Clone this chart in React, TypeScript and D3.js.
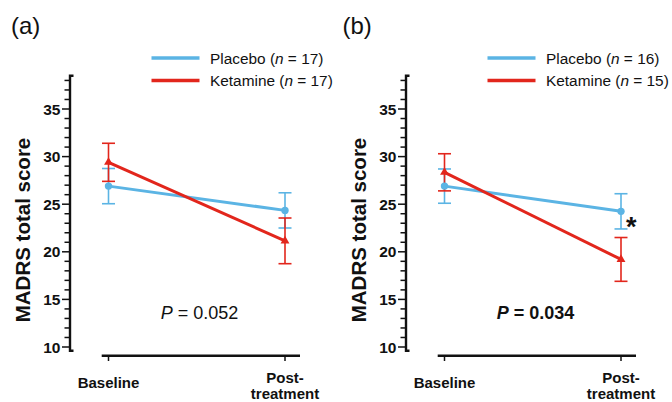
import React from "react";
import * as d3 from "d3";

// ---------- data ----------
const categories = ["Baseline", "Post-treatment"];
const yMajorTicks = [10, 15, 20, 25, 30, 35];
const yMinorTicks = d3.range(10, 39, 1);

const panelLabels = ["(a)", "(b)"];
const placeboN = [17, 16];
const ketamineN = [17, 15];
const pValues = ["0.052", "0.034"];

const aPlaceboMean = [26.9, 24.35];
const aPlaceboErr = [1.85, 1.85];
const aKetamineMean = [29.4, 21.15];
const aKetamineErr = [2.0, 2.4];

const bPlaceboMean = [26.9, 24.25];
const bPlaceboErr = [1.8, 1.85];
const bKetamineMean = [28.35, 19.2];
const bKetamineErr = [1.95, 2.3];

// ---------- style ----------
const BLUE = "#5bb4e4";
const RED = "#e2261c";
const FONT = "'Liberation Sans', Arial, Helvetica, sans-serif";

const W = 672;
const H = 402;

const y = d3.scaleLinear().domain([10, 35]).range([347, 109]);
const x = d3.scalePoint<string>().domain(categories).range([108.5, 285]);

const triangle = d3.symbol().type(d3.symbolTriangle).size(34)();

type Series = { mean: number[]; err: number[]; color: string; kind: "circle" | "triangle" };

function ErrorBars({ s }: { s: Series }) {
  return (
    <g stroke={s.color} strokeWidth={1.6} fill="none">
      {categories.map((c, i) => {
        const cx = x(c)!;
        const top = y(s.mean[i] + s.err[i]);
        const bot = y(s.mean[i] - s.err[i]);
        return (
          <g key={c}>
            <line x1={cx} x2={cx} y1={top} y2={bot} />
            <line x1={cx - 6.5} x2={cx + 6.5} y1={top} y2={top} />
            <line x1={cx - 6.5} x2={cx + 6.5} y1={bot} y2={bot} />
          </g>
        );
      })}
    </g>
  );
}

function SeriesLine({ s }: { s: Series }) {
  const line = d3
    .line<number>()
    .x((_, i) => x(categories[i])!)
    .y((d) => y(d));
  return <path d={line(s.mean) || ""} stroke={s.color} strokeWidth={3} fill="none" />;
}

function Markers({ s }: { s: Series }) {
  return (
    <g fill={s.color}>
      {categories.map((c, i) =>
        s.kind === "circle" ? (
          <circle key={c} cx={x(c)!} cy={y(s.mean[i])} r={3.7} />
        ) : (
          <path key={c} d={triangle || ""} transform={`translate(${x(c)!},${y(s.mean[i])})`} />
        )
      )}
    </g>
  );
}

function Panel({
  idx,
  dx,
  labelX,
  placebo,
  ketamine,
  bold,
  star,
}: {
  idx: number;
  dx: number;
  labelX: number;
  placebo: Series;
  ketamine: Series;
  bold: boolean;
  star: boolean;
}) {
  const axisX = 70;
  const yTop = y(38.5);
  const yBot = y(9.6);
  return (
    <g>
      <text x={labelX} y={33.5} fontFamily={FONT} fontSize={24} fill="#111">
        {panelLabels[idx]}
      </text>
      <g transform={`translate(${dx},0)`}>
        {/* legend */}
        <g fontFamily={FONT} fontSize={15.4} fill="#111">
          <line x1={151.5} x2={199.5} y1={58} y2={58} stroke={BLUE} strokeWidth={3.5} />
          <line x1={151.5} x2={199.5} y1={80.5} y2={80.5} stroke={RED} strokeWidth={3.5} />
          <text x={210} y={63.5}>
            Placebo (<tspan fontStyle="italic">n</tspan> = {placeboN[idx]})
          </text>
          <text x={210} y={86}>
            Ketamine (<tspan fontStyle="italic">n</tspan> = {ketamineN[idx]})
          </text>
        </g>

        {/* y axis */}
        <path
          d={`M${axisX + 3.5},${yTop} H${axisX} V${yBot} H${axisX + 3.5}`}
          stroke="#111"
          strokeWidth={2.4}
          fill="none"
        />
        <g stroke="#111" strokeWidth={1.5}>
          {yMinorTicks.map((t) => (
            <line key={t} x1={axisX - (t % 5 === 0 ? 8 : 5.5)} x2={axisX} y1={y(t)} y2={y(t)} />
          ))}
        </g>
        <g fontFamily={FONT} fontSize={15.5} fontWeight="bold" fill="#111" textAnchor="end">
          {yMajorTicks.map((t) => (
            <text key={t} x={axisX - 9.5} y={y(t) + 5.5}>
              {t}
            </text>
          ))}
        </g>
        <text
          transform={`translate(30,230) rotate(-90)`}
          textAnchor="middle"
          fontFamily={FONT}
          fontSize={20.5}
          fontWeight="bold"
          fill="#111"
        >
          MADRS total score
        </text>

        {/* x axis */}
        <line x1={101.7} x2={300} y1={355.7} y2={355.7} stroke="#111" strokeWidth={2.6} />
        <g stroke="#111" strokeWidth={1.5}>
          {categories.map((c) => (
            <line key={c} x1={x(c)!} x2={x(c)!} y1={355.7} y2={361} />
          ))}
        </g>
        <g fontFamily={FONT} fontSize={15} fontWeight="bold" fill="#111" textAnchor="middle">
          <text x={x(categories[0])!} y={388.3}>
            Baseline
          </text>
          <text x={x(categories[1])!} y={382.6}>
            Post-
          </text>
          <text x={x(categories[1])!} y={399}>
            treatment
          </text>
        </g>

        {/* data */}
        <ErrorBars s={placebo} />
        <ErrorBars s={ketamine} />
        <SeriesLine s={placebo} />
        <SeriesLine s={ketamine} />
        <Markers s={placebo} />
        <Markers s={ketamine} />

        {star && (
          <text
            x={x(categories[1])! + 5}
            y={235.5}
            fontFamily={FONT}
            fontSize={27}
            fontWeight="bold"
            fill="#111"
          >
            *
          </text>
        )}

        <text
          x={199.5}
          y={319.3}
          textAnchor="middle"
          fontFamily={FONT}
          fontSize={18}
          fontWeight={bold ? "bold" : "normal"}
          fill="#111"
        >
          <tspan fontStyle="italic">P</tspan> = {pValues[idx]}
        </text>
      </g>
    </g>
  );
}

export default function App() {
  const aPlacebo: Series = { mean: aPlaceboMean, err: aPlaceboErr, color: BLUE, kind: "circle" };
  const aKetamine: Series = { mean: aKetamineMean, err: aKetamineErr, color: RED, kind: "triangle" };
  const bPlacebo: Series = { mean: bPlaceboMean, err: bPlaceboErr, color: BLUE, kind: "circle" };
  const bKetamine: Series = { mean: bKetamineMean, err: bKetamineErr, color: RED, kind: "triangle" };
  return (
    <svg
      width={W}
      height={H}
      viewBox={`0 0 ${W} ${H}`}
      style={{ position: "absolute", left: 0, top: 0, background: "#fff" }}
    >
      <rect width={W} height={H} fill="#fff" />
      <Panel idx={0} dx={0} labelX={11} placebo={aPlacebo} ketamine={aKetamine} bold={false} star={false} />
      <Panel idx={1} dx={336} labelX={342.5} placebo={bPlacebo} ketamine={bKetamine} bold={true} star={true} />
    </svg>
  );
}
